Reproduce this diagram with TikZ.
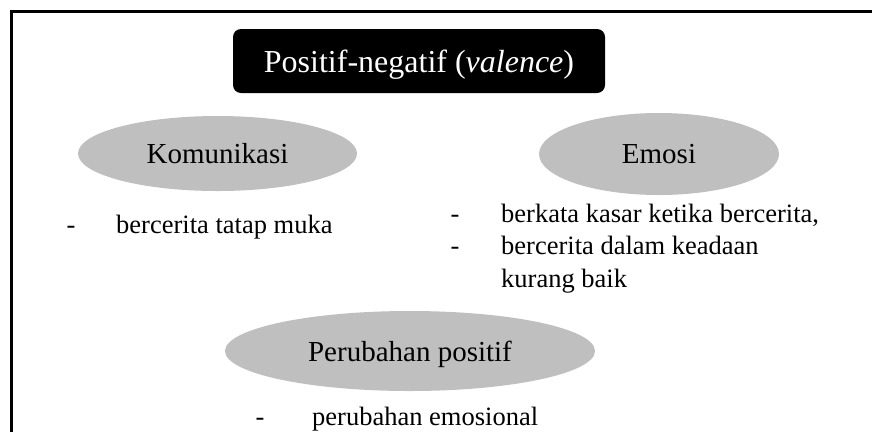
\documentclass[tikz,border=0pt]{standalone}
\usepackage{fontspec}
\setmainfont{Liberation Serif}
\usetikzlibrary{shapes.geometric}
\definecolor{abu}{RGB}{191,191,191}
\tikzset{
  judul/.style={fill=black, rounded corners=8pt, text=white, minimum width=372pt, minimum height=64pt, inner sep=0pt, outer sep=0pt, text depth=0pt, font=\fontsize{32}{38}\selectfont},
  aspek/.style={ellipse, fill=abu, inner sep=0pt, outer sep=0pt, text depth=0pt, font=\fontsize{29}{35}\selectfont},
  butir/.style={anchor=base west, inner sep=0pt, font=\fontsize{26.5}{32}\selectfont},
  strip/.style={anchor=base, inner sep=0pt, font=\fontsize{26.5}{32}\selectfont}
}
\begin{document}
\begin{tikzpicture}[x=1pt,y=-1pt]
				\useasboundingbox (0,0) rectangle (872,432);
				\draw[line width=2.4pt] (11.5,432) -- (11.5,11.5) -- (872,11.5);
				\node[judul] (judul) at (419,61) {Positif-negatif (\textit{valence})};
				\node[aspek, minimum width=279pt, minimum height=75pt] (komunikasi) at (217.5,153.5) {Komunikasi};
				\node[aspek, minimum width=240pt, minimum height=82pt] (emosi) at (659,154) {Emosi};
				\node[aspek, minimum width=370pt, minimum height=80pt] (perubahan) at (410,351) {Perubahan positif};
				\node[strip] (k1s) at (71,233) {-};
				\node[butir] (k1) at (116,233) {bercerita tatap muka};
				\node[strip] (e1s) at (455,222) {-};
				\node[butir] (e1) at (501,222) {berkata kasar ketika bercerita,};
				\node[strip] (e2s) at (455,254.5) {-};
				\node[butir] (e2) at (501,254.5) {bercerita dalam keadaan};
				\node[butir] (e3) at (501,287) {kurang baik};
				\node[strip] (p1s) at (260,425) {-};
				\node[butir] (p1) at (312,425) {perubahan emosional};
			\end{tikzpicture}
\end{document}
